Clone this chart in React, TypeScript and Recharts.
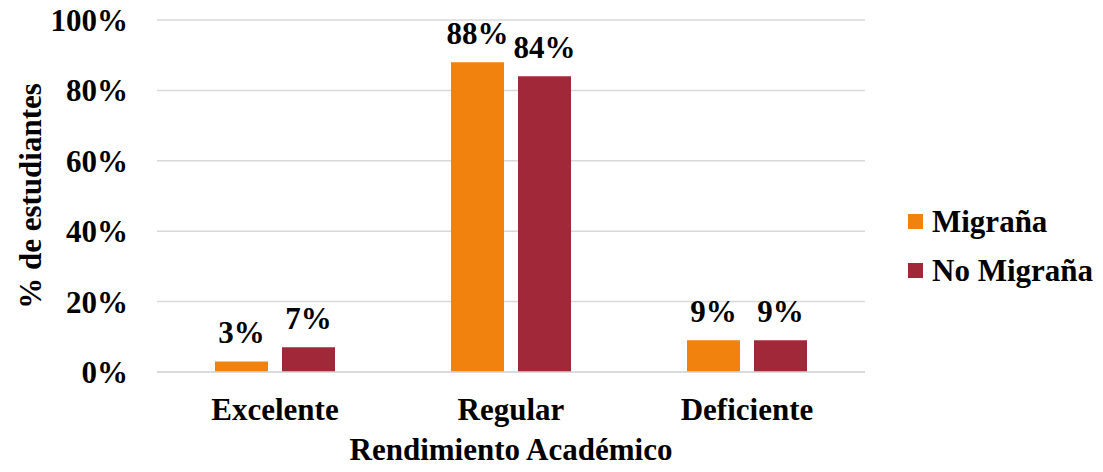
import React from "react";
import {
  BarChart,
  Bar,
  XAxis,
  YAxis,
  CartesianGrid,
  Legend,
  LabelList
} from "recharts";

const categories = ["Excelente", "Regular", "Deficiente"];
const migrana = [3, 88, 9];
const noMigrana = [7, 84, 9];
const yTicks = [0, 20, 40, 60, 80, 100];

const data = categories.map((c, i) => ({
  name: c,
  migrana: migrana[i],
  noMigrana: noMigrana[i]
}));

const FONT = "'Times New Roman', 'Liberation Serif', serif";
const textStyle = { fontFamily: FONT, fontWeight: 700, fontSize: 31, fill: "#000" };

const renderLegend = (props: any) => {
  const { payload } = props;
  return (
    <div style={{ fontFamily: FONT, fontWeight: 700, fontSize: 31, color: "#000" }}>
      {payload.map((entry: any) => (
        <div
          key={entry.value}
          style={{ display: "flex", alignItems: "center", height: 49 }}
        >
          <span
            style={{
              display: "inline-block",
              width: 15,
              height: 15,
              background: entry.color,
              marginRight: 9
            }}
          />
          <span>{entry.value}</span>
        </div>
      ))}
    </div>
  );
};

export default function App() {
  return (
    <div style={{ position: "absolute", left: 0, top: 0, background: "#fff" }}>
      <BarChart
        width={1103}
        height={472}
        data={data}
        margin={{ top: 20, right: 238, left: 0, bottom: 0 }}
        barGap={14}
        barSize={53}
      >
        <CartesianGrid vertical={false} stroke="#d9d9d9" strokeWidth={1.5} />
        <XAxis
          dataKey="name"
          height={100}
          tickLine={false}
          tickSize={0}
          tickMargin={26}
          axisLine={{ stroke: "#d9d9d9", strokeWidth: 1.5 }}
          tick={textStyle}
          label={{
            value: "Rendimiento Académico",
            position: "insideBottom",
            offset: 12,
            style: textStyle
          }}
        />
        <YAxis
          width={157}
          domain={[0, 100]}
          ticks={yTicks}
          tickFormatter={(v) => `${v}%`}
          axisLine={false}
          tickLine={false}
          tickSize={0}
          tickMargin={29}
          tick={textStyle}
          label={{
            value: "% de estudiantes",
            angle: -90,
            position: "insideLeft",
            offset: 30,
            style: { ...textStyle, textAnchor: "middle" }
          }}
        />
        <Legend
          layout="vertical"
          align="center"
          verticalAlign="middle"
          content={renderLegend}
          wrapperStyle={{ left: 908, top: 197, width: 195 }}
        />
        <Bar dataKey="migrana" name="Migraña" fill="#F0820D" isAnimationActive={false}>
          <LabelList
            dataKey="migrana"
            position="top"
            offset={18}
            formatter={(v: any) => `${v}%`}
            style={textStyle}
          />
        </Bar>
        <Bar dataKey="noMigrana" name="No Migraña" fill="#A12838" isAnimationActive={false}>
          <LabelList
            dataKey="noMigrana"
            position="top"
            offset={18}
            formatter={(v: any) => `${v}%`}
            style={textStyle}
          />
        </Bar>
      </BarChart>
    </div>
  );
}
